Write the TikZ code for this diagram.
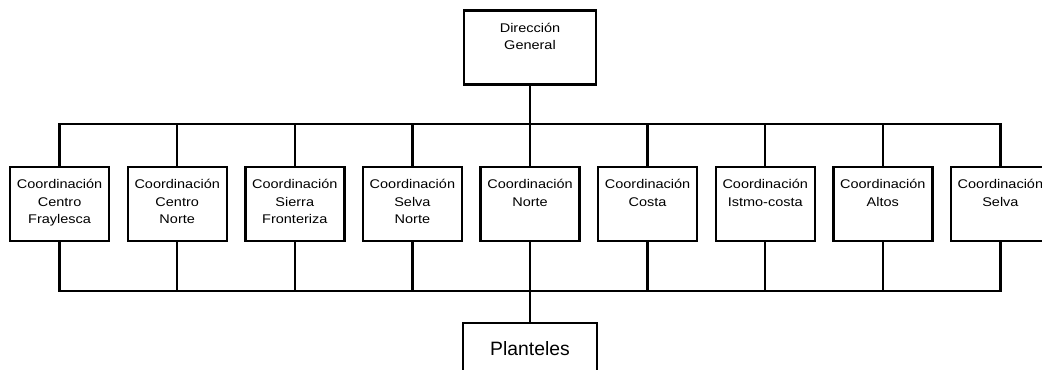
\documentclass[tikz,border=0pt]{standalone}
\usepackage{fontspec}
\setmainfont{Liberation Sans}
\newfontfamily\boxfont[FakeStretch=1.15]{Liberation Sans}
\usetikzlibrary{calc}
\tikzset{
	unit/.style={draw, line width=1.8pt, minimum width=74.25pt, minimum height=55.5pt, inner sep=0pt, align=center, font=\boxfont\fontsize{9.45}{12.9}\selectfont, execute at begin node=\strut, execute at end node=\strut},
	topunit/.style={unit, minimum width=99pt},
	baseunit/.style={unit, minimum width=100.5pt, minimum height=0pt, anchor=north, text height=24pt, text depth=40pt, font=\fontsize{14.5}{17}\selectfont},
	edge/.style={color=black, line width=1.8pt}
}
\begin{document}
\begin{tikzpicture}[x=0.75pt,y=-0.75pt]
		% Variables for distances
		\def\x{117.6} % Coordination boxes are \x apart
		\def\e{\\} % empty last line, keeps the text at the top
		\clip (0,0) rectangle (1042,369);
		
		\node[topunit] (DG) at (530,47.3) {Dirección\\General\e};
		
		\node[unit] (C1) at (59.6,204) {Coordinación\\Centro\\Fraylesca};
		\node[unit] (C2) at ($ (C1) + \x*(1,0)$) {Coordinación\\Centro\\Norte};
		\node[unit] (C3) at ($ (C2) + \x*(1,0)$) {Coordinación\\Sierra\\Fronteriza};
		\node[unit] (C4) at ($ (C3) + \x*(1,0)$) {Coordinación\\Selva\\Norte};
		\node[unit] (C5) at ($ (C4) + \x*(1,0)$) {Coordinación\\Norte\e};
		\node[unit] (C6) at ($ (C5) + \x*(1,0)$) {Coordinación\\Costa\e};
		\node[unit] (C7) at ($ (C6) + \x*(1,0)$) {Coordinación\\Istmo-costa\e};
		\node[unit] (C8) at ($ (C7) + \x*(1,0)$) {Coordinación\\Altos\e};
		\node[unit] (C9) at ($ (C8) + \x*(1,0)$) {Coordinación\\Selva\e};
		
		\node[baseunit] (PL) at (530,322) {Planteles};
		
		% the two bus lines
		\coordinate (TB) at (530,124);
		\coordinate (BB) at (530,291);
		
		\draw[edge] (DG) -- (TB);
		\draw[edge] (C1.north) |- (TB) -| (C9.north);
		\draw[edge] (C2) -- (C2 |- TB);
		\draw[edge] (C3) -- (C3 |- TB);
		\draw[edge] (C4) -- (C4 |- TB);
		\draw[edge] (C5) -- (C5 |- TB);
		\draw[edge] (C6) -- (C6 |- TB);
		\draw[edge] (C7) -- (C7 |- TB);
		\draw[edge] (C8) -- (C8 |- TB);
		
		\draw[edge] (C1.south) |- (BB) -| (C9.south);
		\draw[edge] (C2) -- (C2 |- BB);
		\draw[edge] (C3) -- (C3 |- BB);
		\draw[edge] (C4) -- (C4 |- BB);
		\draw[edge] (C5) -- (C5 |- BB);
		\draw[edge] (C6) -- (C6 |- BB);
		\draw[edge] (C7) -- (C7 |- BB);
		\draw[edge] (C8) -- (C8 |- BB);
		\draw[edge] (BB) -- (PL);
		
	\end{tikzpicture}
\end{document}
